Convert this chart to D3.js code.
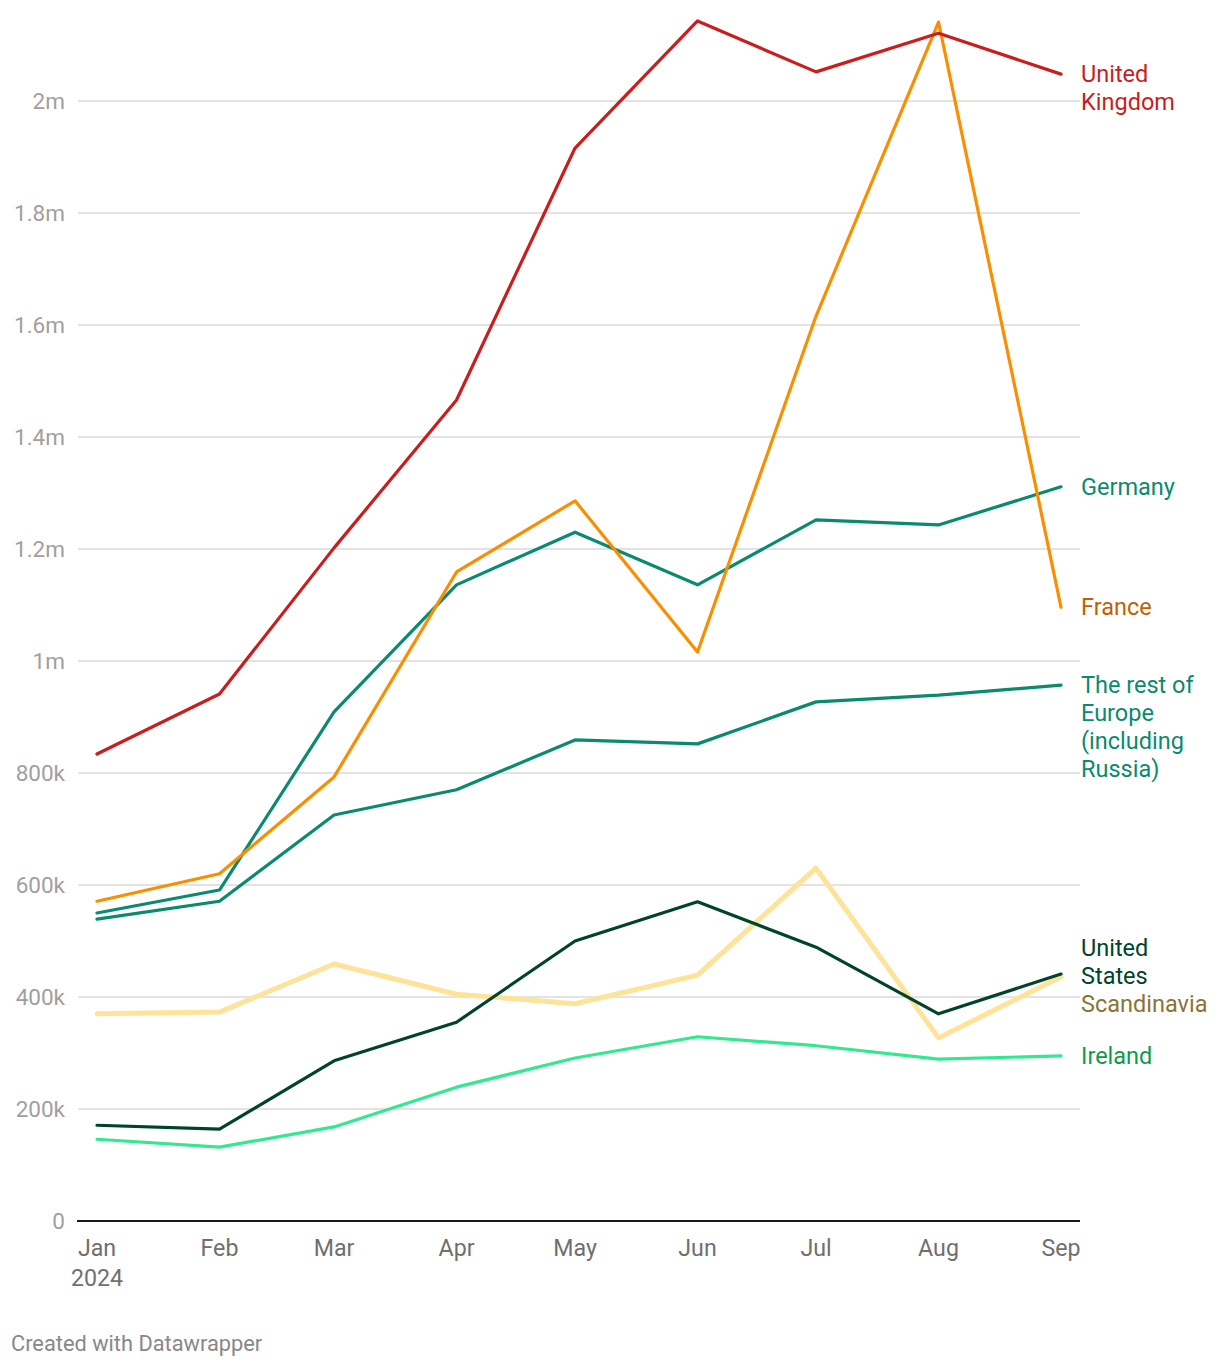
<!DOCTYPE html>
<html>
<head>
<meta charset="utf-8">
<script src="https://cdn.jsdelivr.net/npm/d3@7"></script>
<style>
  html, body { margin: 0; padding: 0; background: #fff; }
  svg { display: block; font-family: Roboto, "Noto Sans", sans-serif; }
</style>
</head>
<body>
<svg id="chart" width="1220" height="1368"></svg>
<script>
// ---- Data ----
const months = ["2024-01-01","2024-02-01","2024-03-01","2024-04-01","2024-05-01","2024-06-01","2024-07-01","2024-08-01","2024-09-01"];
const monthLabels = ["Jan","Feb","Mar","Apr","May","Jun","Jul","Aug","Sep"];
const yTicks = [0, 200000, 400000, 600000, 800000, 1000000, 1200000, 1400000, 1600000, 1800000, 2000000];
const yTickLabels = ["0","200k","400k","600k","800k","1m","1.2m","1.4m","1.6m","1.8m","2m"];

const seriesNames = ["Scandinavia","Ireland","United States","The rest of Europe (including Russia)","Germany","France","United Kingdom"];
const scandinavia = [370000, 373000, 459000, 405000, 388000, 439000, 630000, 327000, 436000];
const ireland     = [146000, 132000, 168000, 239000, 291000, 329000, 313000, 289000, 295000];
const unitedStates= [171000, 164000, 286000, 355000, 500000, 570000, 489000, 370000, 441000];
const restOfEurope= [539000, 571000, 725000, 770000, 859000, 852000, 927000, 939000, 957000];
const germany     = [550000, 591000, 909000, 1136000, 1230000, 1136000, 1252000, 1243000, 1311000];
const france      = [571000, 620000, 793000, 1159000, 1286000, 1016000, 1616000, 2141000, 1096000];
const unitedKingdom=[834000, 941000, 1202000, 1466000, 1916000, 2143000, 2052000, 2121000, 2048000];

const seriesValues = [scandinavia, ireland, unitedStates, restOfEurope, germany, france, unitedKingdom];
const labelLines = [["Scandinavia"],["Ireland"],["United","States"],["The rest of","Europe","(including","Russia)"],["Germany"],["France"],["United","Kingdom"]];
const lineColors  = ["#ffe39a","#33e890","#00432b","#0a8a6e","#0a8a6e","#f98f00","#c81e1e"];
const labelColors = ["#8a7432","#0e9a4c","#00432b","#0a8a6e","#0a8a6e","#c25f00","#c81e1e"];
const lineWidths  = [5,3.2,3.2,3.2,3.2,3.2,3.2];

// ---- Layout ----
const svg = d3.select("#chart");
const parse = d3.timeParse("%Y-%m-%d");
const dates = months.map(parse);

const x = d3.scaleTime().domain([dates[0], dates[dates.length-1]]).range([97, 1061]);
const y = d3.scaleLinear().domain([0, 2000000]).range([1221, 101]);

// gridlines
svg.append("g").selectAll("line")
  .data(yTicks.filter(d => d > 0))
  .join("line")
  .attr("x1", 78).attr("x2", 1080)
  .attr("y1", d => y(d)).attr("y2", d => y(d))
  .attr("stroke", "#e3e3e3").attr("stroke-width", 2);

// y tick labels
svg.append("g").selectAll("text")
  .data(yTicks)
  .join("text")
  .attr("x", 65).attr("y", d => y(d))
  .attr("dy", "0.35em")
  .attr("text-anchor", "end")
  .attr("fill", "#a0a0a0")
  .attr("font-size", 22.5)
  .text((d, i) => yTickLabels[i]);

// baseline
svg.append("line")
  .attr("x1", 77).attr("x2", 1080)
  .attr("y1", y(0)).attr("y2", y(0))
  .attr("stroke", "#1a1a1a").attr("stroke-width", 2);

// x axis labels
const xg = svg.append("g");
xg.selectAll("text.m")
  .data(dates)
  .join("text")
  .attr("class", "m")
  .attr("x", d => x(d)).attr("y", 1256)
  .attr("text-anchor", "middle")
  .attr("fill", "#6f6f6f")
  .attr("font-size", 23.2)
  .text((d, i) => monthLabels[i]);
xg.append("text")
  .attr("x", x(dates[0])).attr("y", 1286)
  .attr("text-anchor", "middle")
  .attr("fill", "#6f6f6f")
  .attr("font-size", 23.2)
  .text("2024");

// lines
const line = d3.line().x((d, i) => x(dates[i])).y(d => y(d));
svg.append("g").selectAll("path")
  .data(seriesValues)
  .join("path")
  .attr("d", d => line(d))
  .attr("fill", "none")
  .attr("stroke", (d, i) => lineColors[i])
  .attr("stroke-width", (d, i) => lineWidths[i])
  .attr("stroke-linejoin", "round")
  .attr("stroke-linecap", "round");

// labels with simple collision avoidance
const lineH = 28, gap = 28;
let labs = seriesValues.map((v, i) => ({ i, yy: y(v[v.length-1]), n: labelLines[i].length }));
labs.sort((a, b) => a.yy - b.yy);
for (let iter = 0; iter < 200; iter++) {
  let moved = false;
  for (let k = 0; k < labs.length - 1; k++) {
    const a = labs[k], b = labs[k+1];
    const need = a.yy + (a.n - 1) * lineH + gap;
    if (b.yy < need - 0.01) {
      const s = (need - b.yy) / 2;
      a.yy -= s; b.yy += s; moved = true;
    }
  }
  if (!moved) break;
}
const lg = svg.append("g");
labs.forEach(l => {
  const t = lg.append("text")
    .attr("x", 1081).attr("y", l.yy)
    .attr("fill", labelColors[l.i])
    .attr("font-size", 23.5);
  labelLines[l.i].forEach((s, j) => {
    t.append("tspan").attr("x", 1081).attr("y", l.yy + j * lineH).attr("dy", "0.35em").text(s);
  });
});

// footer
svg.append("text")
  .attr("x", 11).attr("y", 1351)
  .attr("fill", "#888")
  .attr("font-size", 21.8)
  .text("Created with Datawrapper");
</script>
</body>
</html>
